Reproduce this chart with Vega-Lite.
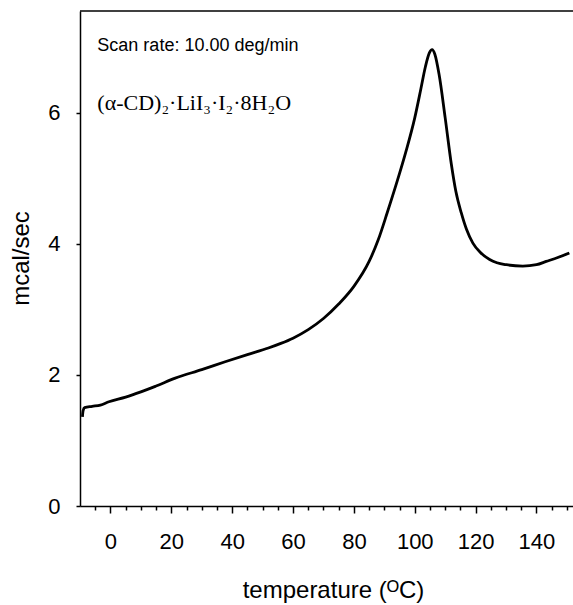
{
  "$schema": "https://vega.github.io/schema/vega-lite/v6.json",
  "autosize": {"type": "none"},
  "padding": {"left": 80, "top": 11, "right": 0, "bottom": 99},
  "width": 493,
  "height": 495,
  "background": "white",
  "config": {
    "view": {"stroke": null},
    "axis": {
      "grid": false,
      "domainColor": "black",
      "domainWidth": 1.5,
      "tickColor": "black",
      "tickWidth": 1.5,
      "labelColor": "black",
      "titleColor": "black",
      "labelFont": "Liberation Sans",
      "titleFont": "Liberation Sans",
      "labelFontSize": 22,
      "titleFontSize": 24,
      "titleFontWeight": "normal"
    }
  },
  "layer": [
    {
      "data": {
        "values": [
          {"T": -9.2, "v": 1.36},
          {"T": -9.0, "v": 1.45},
          {"T": -8.5, "v": 1.50},
          {"T": -6, "v": 1.52},
          {"T": -3.3, "v": 1.54},
          {"T": -0.5, "v": 1.59},
          {"T": 5, "v": 1.66},
          {"T": 10, "v": 1.74},
          {"T": 15, "v": 1.83},
          {"T": 21.3, "v": 1.95},
          {"T": 30, "v": 2.08},
          {"T": 37.7, "v": 2.20},
          {"T": 45, "v": 2.31},
          {"T": 51.9, "v": 2.41},
          {"T": 56, "v": 2.48},
          {"T": 60, "v": 2.56},
          {"T": 65, "v": 2.69},
          {"T": 70, "v": 2.86},
          {"T": 75, "v": 3.08},
          {"T": 80, "v": 3.35},
          {"T": 85, "v": 3.73},
          {"T": 88, "v": 4.06},
          {"T": 91, "v": 4.48},
          {"T": 94, "v": 4.92},
          {"T": 97, "v": 5.39},
          {"T": 100, "v": 5.92},
          {"T": 102, "v": 6.36},
          {"T": 103.5, "v": 6.70},
          {"T": 104.8, "v": 6.91},
          {"T": 105.7, "v": 6.96},
          {"T": 106.6, "v": 6.89},
          {"T": 108, "v": 6.58},
          {"T": 110, "v": 5.92},
          {"T": 112, "v": 5.22},
          {"T": 113.5, "v": 4.80},
          {"T": 115.3, "v": 4.47},
          {"T": 117, "v": 4.22},
          {"T": 119.1, "v": 4.01},
          {"T": 121.5, "v": 3.87},
          {"T": 124.6, "v": 3.76},
          {"T": 127, "v": 3.71},
          {"T": 130.1, "v": 3.68},
          {"T": 135.5, "v": 3.66},
          {"T": 140, "v": 3.68},
          {"T": 143.2, "v": 3.73},
          {"T": 147, "v": 3.79},
          {"T": 150.8, "v": 3.86}
        ]
      },
      "mark": {"type": "line", "color": "black", "strokeWidth": 2.8, "interpolate": "monotone"},
      "encoding": {
        "x": {
          "field": "T", "type": "quantitative",
          "scale": {"domain": [-10, 152], "nice": false, "zero": false},
          "axis": {
            "values": [-5, 0, 5, 10, 15, 20, 25, 30, 35, 40, 45, 50, 55, 60, 65, 70, 75, 80, 85, 90, 95, 100, 105, 110, 115, 120, 125, 130, 135, 140, 145, 150],
            "tickCount": 100,
            "tickSize": {"condition": {"test": "datum.value % 20 === 0", "value": 7}, "value": 4},
            "labelExpr": "datum.value % 20 === 0 ? datum.label : ''",
            "labelOverlap": false,
            "labelFlush": false,
            "labelPadding": 18,
            "title": "temperature (ᴼC)",
            "titleX": 253,
            "titleY": 84,
            "titleBaseline": "middle"
          }
        },
        "y": {
          "field": "v", "type": "quantitative",
          "scale": {"domain": [0, 7.55], "nice": false},
          "axis": {
            "values": [0, 2, 4, 6],
            "format": "d",
            "tickSize": 4,
            "labelPadding": 16,
            "title": "mcal/sec",
            "titleX": -59,
            "titleY": 247,
            "titleAlign": "center",
            "titleBaseline": "middle"
          }
        }
      }
    },
    {
      "data": {"values": [{}]},
      "mark": {"type": "rule", "color": "black", "strokeWidth": 1.5},
      "encoding": {"y": {"datum": 7.55}}
    },
    {
      "data": {"values": [{}]},
      "mark": {"type": "text", "align": "left", "baseline": "middle", "font": "Liberation Sans", "fontSize": 18, "color": "black"},
      "encoding": {"x": {"datum": -4.3}, "y": {"datum": 7.02}, "text": {"value": "Scan rate: 10.00 deg/min"}}
    },
    {
      "data": {"values": [{}]},
      "mark": {"type": "text", "align": "left", "baseline": "middle", "font": "Liberation Serif", "fontSize": 22, "color": "black"},
      "encoding": {"x": {"datum": -4.3}, "y": {"datum": 6.15}, "text": {"value": "(α-CD)₂·LiI₃·I₂·8H₂O"}}
    }
  ]
}
